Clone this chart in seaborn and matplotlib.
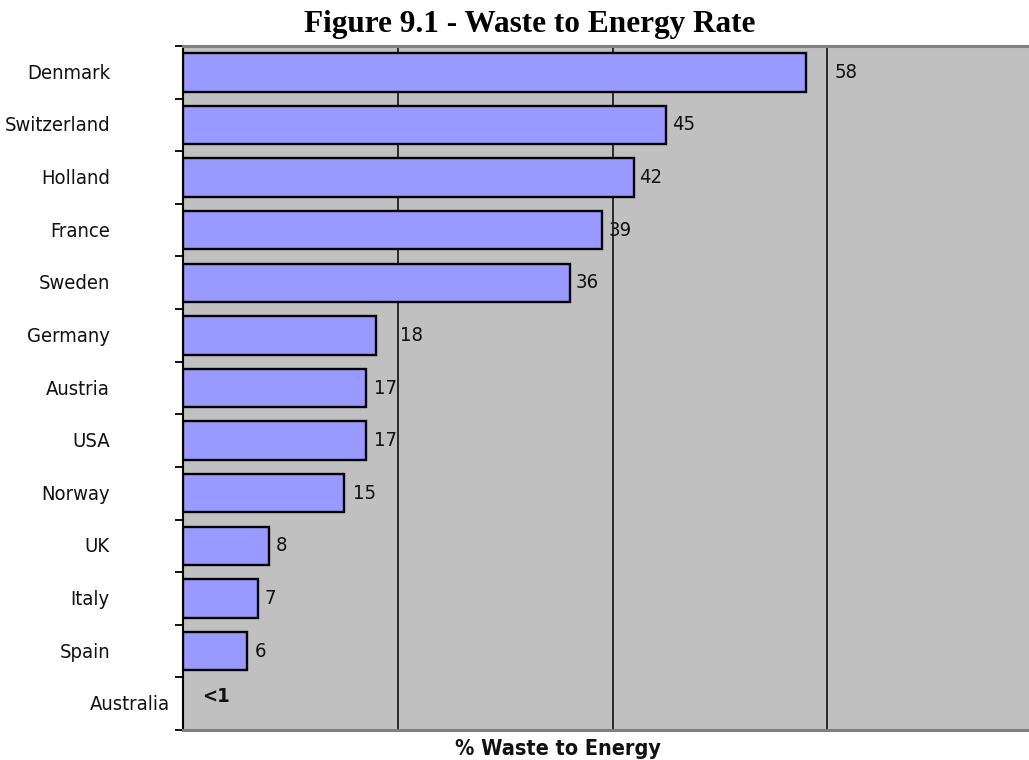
import numpy as np
import pandas as pd
import seaborn as sns
import matplotlib
matplotlib.use("Agg")
import matplotlib.pyplot as plt

# Waste-to-energy share by country (percent)
countries = ["Denmark", "Switzerland", "Holland", "France", "Sweden", "Germany",
             "Austria", "USA", "Norway", "UK", "Italy", "Spain", "Australia"]
rates = [58, 45, 42, 39, 36, 18, 17, 17, 15, 8, 7, 6, np.nan]
value_labels = ["58", "45", "42", "39", "36", "18", "17", "17", "15", "8", "7", "6", "<1"]

# where each value label starts, relative to its bar end (in % units)
label_gap = [2.7, 0.5, 0.5, 0.6, 0.6, 2.2, 0.8, 0.8, 0.8, 0.6, 0.6, 0.7, 1.8]
# horizontal shift of the category names (axes fraction, right edge)
name_right = [-0.085] * 12 + [-0.015]

df = pd.DataFrame({"country": countries, "rate": rates})

sns.set_theme(style="white")
plt.rcParams["font.family"] = ["DejaVu Sans"]

W, H = 1029, 760
fig = plt.figure(figsize=(W / 100, H / 100), dpi=100)
fig.patch.set_facecolor("white")

left_px, right_px, top_px, bottom_px = 183, 183 + 80 * 10.74, 46, 730
ax = fig.add_axes([left_px / W, 1 - bottom_px / H,
                   (right_px - left_px) / W, (bottom_px - top_px) / H])
ax.set_facecolor("#C0C0C0")

sns.barplot(data=df, x="rate", y="country", order=countries, color="#9999FF",
            saturation=1, edgecolor="black", linewidth=1.7, width=0.73, ax=ax,
            zorder=3)

ax.set_xlim(0, 80)
ax.set_ylim(12.5, -0.5)
ax.set_xlabel("")
ax.set_ylabel("")

# vertical gridlines every 20 %
ax.set_xticks([0, 20, 40, 60, 80])
ax.xaxis.grid(True, color="black", linewidth=1.1, zorder=1)
ax.set_axisbelow(True)
ax.tick_params(axis="x", length=0, labelbottom=False)

# tick marks between categories, names drawn as text
ax.set_yticks(range(len(countries)))
ax.set_yticklabels([])
ax.tick_params(axis="y", which="major", length=0)
ax.set_yticks(np.arange(-0.5, len(countries), 1.0), minor=True)
ax.tick_params(axis="y", which="minor", length=6, width=1.3, color="black",
               direction="out", left=True)

for side in ["top", "bottom"]:
    ax.spines[side].set_color("#808080")
    ax.spines[side].set_linewidth(2.2)
ax.spines["left"].set_color("black")
ax.spines["left"].set_linewidth(1.5)
ax.spines["right"].set_visible(False)

label_font = dict(fontsize=14.5, fontstretch="condensed", color="#111111")
ytrans = ax.get_yaxis_transform()
for i, (name, xr) in enumerate(zip(countries, name_right)):
    ax.text(xr, i + 0.02, name, transform=ytrans, ha="right", va="center",
            **label_font)

for i, (val, txt, gap) in enumerate(zip(rates, value_labels, label_gap)):
    base = 0 if np.isnan(val) else val
    if txt.startswith("<"):
        ax.text(base + gap, i - 0.13, txt, ha="left", va="center",
                fontweight="bold", **label_font)
    else:
        ax.text(base + gap, i, txt, ha="left", va="center", **label_font)

fig.text(530 / W, 1 - 32 / H, "Figure 9.1 - Waste to Energy Rate",
         ha="center", va="baseline", fontsize=22.5, fontweight="bold",
         family="Liberation Serif", color="black")
fig.text(558 / W, 1 - 755 / H, "% Waste to Energy", ha="center", va="baseline",
         fontweight="bold", fontsize=15.5, fontstretch="condensed",
         color="#111111")

fig.savefig("out.png", dpi=100, facecolor="white")
